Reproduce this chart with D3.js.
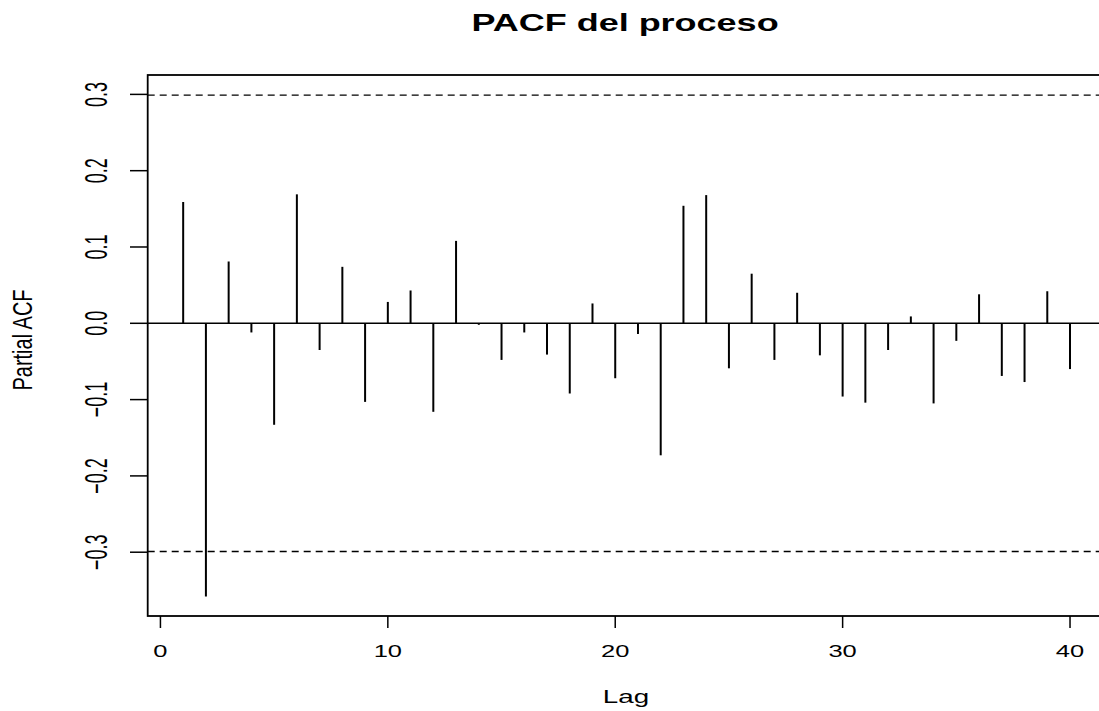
<!DOCTYPE html>
<html>
<head>
<meta charset="utf-8">
<script src="https://cdn.jsdelivr.net/npm/d3@7"></script>
<style>
    body { margin: 0; background: #fff; }
    text { font-family: "Liberation Sans", Arial, sans-serif; fill: #000; }
</style>
</head>
<body>
<svg width="1099" height="711"></svg>
<script>
// PACF values by lag
const lags = d3.range(1, 41);
const pacfValues = [
    0.159, -0.358, 0.081, -0.012, -0.133, 0.169, -0.035, 0.074, -0.103, 0.028,
    0.043, -0.116, 0.108, -0.002, -0.048, -0.012, -0.041, -0.092, 0.026, -0.072,
    -0.014, -0.173, 0.154, 0.168, -0.059, 0.065, -0.048, 0.040, -0.042, -0.096,
    -0.104, -0.035, 0.009, -0.105, -0.023, 0.038, -0.069, -0.077, 0.042, -0.060
];
const confLimit = 0.299; // dashed band
const xTicks = [0, 10, 20, 30, 40];
const yTicks = [-0.3, -0.2, -0.1, 0.0, 0.1, 0.2, 0.3];

const chartTitle = "PACF del proceso";
const xLabel = "Lag";
const yLabel = "Partial ACF";

const svg = d3.select("svg");
const stretch = 1.5; // picture is stretched horizontally

const x = d3.scaleLinear().domain([-0.56, 41.56]).range([147.7, 1105.5]);
const y = d3.scaleLinear().domain([-0.3836, 0.3254]).range([616, 75]);

const data = lags.map((lag, i) => ({ lag, value: pacfValues[i] }));

// frame
svg.append("rect")
    .attr("x", x.range()[0]).attr("y", y.range()[1])
    .attr("width", x.range()[1] - x.range()[0])
    .attr("height", y.range()[0] - y.range()[1])
    .attr("fill", "none").attr("stroke", "#000").attr("stroke-width", 1.8);

// zero line
svg.append("line")
    .attr("x1", x.range()[0]).attr("x2", x.range()[1])
    .attr("y1", y(0)).attr("y2", y(0))
    .attr("stroke", "#000").attr("stroke-width", 1.5);

// confidence limits
svg.selectAll(".ci").data([confLimit, -confLimit]).enter()
    .append("line").attr("class", "ci")
    .attr("x1", x.range()[0]).attr("x2", x.range()[1])
    .attr("y1", d => y(d)).attr("y2", d => y(d))
    .attr("stroke", "#000").attr("stroke-width", 1.4)
    .attr("stroke-dasharray", "7,5");

// spikes
svg.selectAll(".spike").data(data).enter()
    .append("line").attr("class", "spike")
    .attr("x1", d => x(d.lag)).attr("x2", d => x(d.lag))
    .attr("y1", y(0)).attr("y2", d => y(d.value))
    .attr("stroke", "#000").attr("stroke-width", 2);

// x axis
const xAxis = svg.append("g");
xAxis.selectAll("line").data(xTicks).enter().append("line")
    .attr("x1", d => x(d)).attr("x2", d => x(d))
    .attr("y1", 616).attr("y2", 628)
    .attr("stroke", "#000").attr("stroke-width", 1.5);
xAxis.selectAll("text").data(xTicks).enter().append("text")
    .attr("transform", d => `translate(${x(d)},657) scale(${stretch},1)`)
    .attr("text-anchor", "middle")
    .style("font-size", "17px")
    .text(d => d);

// y axis
const yAxis = svg.append("g");
yAxis.selectAll("line").data(yTicks).enter().append("line")
    .attr("x1", 130).attr("x2", 147.7)
    .attr("y1", d => y(d)).attr("y2", d => y(d))
    .attr("stroke", "#000").attr("stroke-width", 1.5);
yAxis.selectAll("text").data(yTicks).enter().append("text")
    .attr("transform", d => `translate(107,${y(d)}) scale(1.7,1) rotate(-90)`)
    .attr("text-anchor", "middle")
    .style("font-size", "18px")
    .text(d => d3.format(".1f")(d));

// title and axis labels
svg.append("text")
    .attr("transform", `translate(625,31) scale(${stretch},1)`)
    .attr("text-anchor", "middle")
    .style("font-size", "24px").style("font-weight", "bold")
    .text(chartTitle);

svg.append("text")
    .attr("transform", `translate(626,703) scale(${stretch},1)`)
    .attr("text-anchor", "middle")
    .style("font-size", "18.5px")
    .text(xLabel);

svg.append("text")
    .attr("transform", `translate(32,340) scale(1.35,1) rotate(-90)`)
    .attr("text-anchor", "middle")
    .style("font-size", "20px")
    .text(yLabel);
</script>
</body>
</html>
